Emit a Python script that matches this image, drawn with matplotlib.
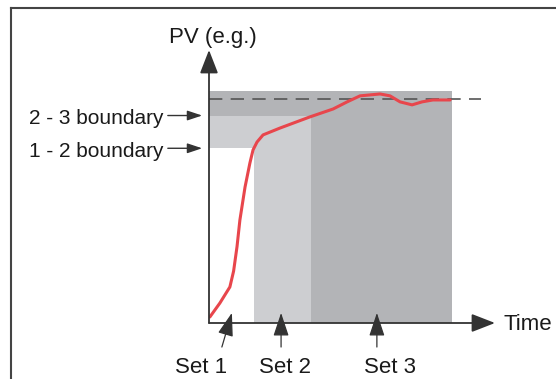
import matplotlib.pyplot as plt
from matplotlib.lines import Line2D

plt.rcParams['font.family'] = ['Liberation Sans', 'DejaVu Sans']

# 数据 (时间 0-10, PV 0-10 的示意坐标)
t_curve = [0.03, 0.38, 0.73, 0.86, 0.98, 1.08, 1.26, 1.43, 1.54, 1.68, 1.89, 2.48,
           3.53, 4.34, 4.83, 5.28, 5.98, 6.33, 6.68, 7.10, 7.45, 7.83, 8.43]
pv_curve = [0.22, 0.73, 1.32, 1.90, 2.80, 3.77, 4.98, 5.86, 6.34, 6.63, 6.89, 7.14,
            7.55, 7.84, 8.10, 8.32, 8.39, 8.32, 8.10, 7.99, 8.10, 8.17, 8.17]

b12 = 6.4          # 1 - 2 boundary
b23 = 7.6          # 2 - 3 boundary
pv_top = 8.5       # 阴影区顶部
setpoint = 8.2     # 虚线
t_set2 = 1.57
t_set3 = 3.57
t_end = 8.5
t_dash_end = 9.5

set_labels = ['Set 1', 'Set 2', 'Set 3']
set_tips = [0.8, 2.52, 5.87]
set_tails = [0.45, 2.52, 5.87]
set_text_x = [-0.29, 2.66, 6.33]

light = '#cdced1'
dark = '#b3b4b7'
ink = '#1a1a1a'
axis_c = '#333333'

fig = plt.figure(figsize=(5.56, 3.79), dpi=100)
ax = fig.add_axes([209 / 556, (379 - 323) / 379, (495 - 209) / 556, (323 - 50) / 379])
ax.set_xlim(0, 10)
ax.set_ylim(0, 10)
ax.axis('off')

# 阴影区
ax.fill_between([0, t_end], b23, pv_top, color=dark, lw=0)
ax.fill_between([t_set3, t_end], 0, b23, color=dark, lw=0)
ax.fill_between([0, t_set3], b12, b23, color=light, lw=0)
ax.fill_between([t_set2, t_set3], 0, b12, color=light, lw=0)

# 虚线
ax.plot([0, t_dash_end], [setpoint, setpoint], color='#555555', lw=1.2,
        dashes=(8, 5), clip_on=False)

# 曲线
ax.plot(t_curve, pv_curve, color='#e8464c', lw=2.2, solid_joinstyle='round',
        solid_capstyle='round')

# 坐标轴箭头
big = dict(arrowstyle='-|>,head_length=0.9,head_width=0.35', color=axis_c,
           lw=1.3, mutation_scale=16, shrinkA=0, shrinkB=0)
ax.annotate('', xy=(10, 0), xytext=(0, 0), arrowprops=big, annotation_clip=False)
ax.annotate('', xy=(0, 10), xytext=(0, 0), arrowprops=big, annotation_clip=False)

ax.text(0.14, 10.44, 'PV (e.g.)', fontsize=16, color=ink, ha='center', va='center')
ax.text(10.28, -0.04, 'Time', fontsize=16, color=ink, ha='left', va='center')

# 边界标签
small = dict(arrowstyle='-|>,head_length=0.9,head_width=0.3', color=axis_c,
             lw=1.0, mutation_scale=10, shrinkA=0, shrinkB=0)
for lab, b in [('2 - 3 boundary', b23), ('1 - 2 boundary', b12)]:
    ax.annotate('', xy=(-0.24, b), xytext=(-1.44, b), arrowprops=small,
                annotation_clip=False)
    ax.text(-1.6, b - 0.12, lab, fontsize=15, color=ink, ha='right', va='center')

# Set 标签
for lab, tip, tail, tx in zip(set_labels, set_tips, set_tails, set_text_x):
    ax.annotate('', xy=(tip, 0.37), xytext=(tail, -0.88),
                arrowprops=dict(small, mutation_scale=16, lw=0.9),
                annotation_clip=False)
    ax.text(tx, -1.62, lab, fontsize=16, color=ink, ha='center', va='center')

# 外框
fig.add_artist(Line2D([10.5 / 556, 10.5 / 556], [0, 1 - 8 / 379],
                      transform=fig.transFigure, color='#444444', lw=1.5))
fig.add_artist(Line2D([10.5 / 556, 1], [1 - 8 / 379, 1 - 8 / 379],
                      transform=fig.transFigure, color='#444444', lw=1.5))

fig.savefig('out.png', dpi=100)
